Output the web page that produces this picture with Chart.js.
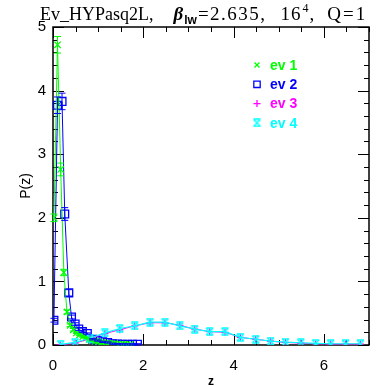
<!DOCTYPE html>
<html>
<head>
<meta charset="utf-8">
<script src="https://cdn.jsdelivr.net/npm/chart.js@4"></script>
<style>
  html, body { margin: 0; padding: 0; background: #fff; }
  #wrap { width: 382px; height: 386px; }
</style>
</head>
<body>
<div id="wrap"><canvas id="chart" width="382" height="386"></canvas></div>
<script>
// dados
const ev1X = [0.02, 0.10, 0.17, 0.24, 0.31, 0.38, 0.45, 0.52, 0.59, 0.66, 0.73, 0.80, 0.87, 0.94, 1.01, 1.08, 1.15, 1.22, 1.29, 1.36, 1.43, 1.50, 1.57, 1.64, 1.71];
const ev1Y = [2.00, 4.72, 2.76, 1.14, 0.52, 0.31, 0.24, 0.19, 0.16, 0.13, 0.11, 0.09, 0.07, 0.06, 0.05, 0.04, 0.03, 0.025, 0.02, 0.02, 0.015, 0.01, 0.01, 0.01, 0.01];
const ev1Err = [0.06, 0.13, 0.10, 0.05, 0.03, 0.02, 0.02, 0.01, 0.01, 0.01, 0.01, 0.01, 0.01, 0.01, 0.01, 0.01, 0.01, 0.01, 0.01, 0.01, 0.01, 0.01, 0.01, 0.01, 0.01];

const ev2X = [0.02, 0.10, 0.20, 0.26, 0.35, 0.41, 0.49, 0.57, 0.65, 0.76, 0.88, 0.99, 1.10, 1.21, 1.32, 1.43, 1.54, 1.65, 1.76, 1.87];
const ev2Y = [0.39, 3.77, 3.83, 2.06, 0.82, 0.44, 0.33, 0.25, 0.21, 0.18, 0.09, 0.07, 0.05, 0.04, 0.02, 0.015, 0.01, 0.01, 0.01, 0.01];
const ev2Err = [0.03, 0.13, 0.13, 0.10, 0.05, 0.03, 0.02, 0.02, 0.01, 0.01, 0.01, 0.01, 0.01, 0.01, 0.01, 0.01, 0.01, 0.01, 0.01, 0.01];

const ev3X = [0.16, 0.49, 0.82, 1.15, 1.48, 1.81, 2.15, 2.48, 2.81, 3.14, 3.47, 3.81, 4.15, 4.49, 4.82, 5.15, 5.49, 5.82, 6.15, 6.48, 6.81];
const ev3Y = [0.00, 0.03, 0.10, 0.18, 0.24, 0.30, 0.35, 0.35, 0.31, 0.25, 0.21, 0.20, 0.12, 0.09, 0.06, 0.04, 0.03, 0.02, 0.015, 0.015, 0.015];

const ev4X = [0.17, 0.49, 0.82, 1.15, 1.48, 1.81, 2.15, 2.48, 2.81, 3.14, 3.47, 3.81, 4.15, 4.49, 4.82, 5.15, 5.49, 5.82, 6.15, 6.48, 6.81];
const ev4Y = [0.01, 0.04, 0.11, 0.19, 0.26, 0.30, 0.36, 0.36, 0.30, 0.25, 0.21, 0.21, 0.12, 0.09, 0.06, 0.045, 0.035, 0.025, 0.02, 0.02, 0.02];

const xTicks = [0, 2, 4, 6];
const yTicks = [0, 1, 2, 3, 4, 5];
const legendLabels = ['ev 1', 'ev 2', 'ev 3', 'ev 4'];

// marcador ciano (ampulheta)
function marcadorAmpulheta(cor) {
    const c = document.createElement('canvas');
    c.width = 9; c.height = 9;
    const g = c.getContext('2d');
    g.strokeStyle = cor; g.lineWidth = 1.4;
    g.beginPath();
    g.moveTo(1, 1); g.lineTo(8, 8);
    g.moveTo(8, 1); g.lineTo(1, 8);
    g.moveTo(1, 1); g.lineTo(8, 1);
    g.moveTo(1, 8); g.lineTo(8, 8);
    g.stroke();
    return c;
}
const ampulheta = marcadorAmpulheta('#00ffff');

function pontos(xs, ys) {
    return xs.map((x, i) => ({ x: x, y: ys[i] }));
}

// título com beta, subscrito e expoente
function desenharTitulo(ctx) {
    ctx.save();
    ctx.fillStyle = '#000';
    ctx.textAlign = 'left';
    ctx.textBaseline = 'alphabetic';
    const base = 20;
    const serif = '18px "Liberation Serif", "DejaVu Serif", serif';
    const serifLargo = '19px "Liberation Serif", "DejaVu Serif", serif';
    const parte = (txt, font, x, dy, esp) => {
        ctx.font = font;
        ctx.letterSpacing = esp || '0px';
        ctx.fillText(txt, x, base + (dy || 0));
        return x + ctx.measureText(txt).width;
    };
    const fimEv = parte('Ev_HYPasq2L,', serif, 40);
    const fimBeta = parte('\u03b2', 'bold italic 19px "Liberation Serif", serif', fimEv + 20);
    const fimLw = parte('lw', 'bold 12px "Liberation Sans", sans-serif', fimBeta + 1, 4);
    const fimNum = parte('=2.635,', serifLargo, fimLw + 1, 0, '1.5px');
    const fim16 = parte('16', serifLargo, fimNum + 14, 0, '1px');
    const fimExp = parte('4', '12px "Liberation Serif", serif', fim16 + 1, -8);
    const fimVirg = parte(',', serifLargo, fimExp + 1);
    parte('Q=1', serifLargo, fimVirg + 13, 0, '2px');
    ctx.restore();
}

// moldura, ticks internos, barras de erro, legenda e título
const extras = {
    id: 'extras',
    beforeDatasetsDraw(chart) {
        const ctx = chart.ctx;
        const { left, right, top, bottom } = chart.chartArea;
        const xs = chart.scales.x, ys = chart.scales.y;
        ctx.save();
        ctx.strokeStyle = '#000';
        ctx.lineWidth = 1;
        ctx.beginPath();
        for (let v = 0; v <= 7.001; v += 0.5) {
            const px = Math.round(xs.getPixelForValue(v)) + 0.5;
            const len = (Math.abs(v % 2) < 1e-6) ? 11 : 5;
            ctx.moveTo(px, bottom); ctx.lineTo(px, bottom - len);
            ctx.moveTo(px, top); ctx.lineTo(px, top + len);
        }
        for (let v = 0; v <= 5.001; v += 0.2) {
            const py = Math.round(ys.getPixelForValue(v)) + 0.5;
            const len = (Math.abs(v - Math.round(v)) < 1e-6) ? 11 : 5;
            ctx.moveTo(left, py); ctx.lineTo(left + len, py);
            ctx.moveTo(right, py); ctx.lineTo(right - len, py);
        }
        ctx.stroke();
        ctx.lineWidth = 1.5;
        ctx.strokeRect(left, top, right - left, bottom - top);
        ctx.restore();
    },
    afterDatasetsDraw(chart) {
        const ctx = chart.ctx;
        const xs = chart.scales.x, ys = chart.scales.y;
        ctx.save();
        chart.data.datasets.forEach(ds => {
            if (!ds.erros) return;
            ctx.strokeStyle = ds.borderColor;
            ctx.lineWidth = 1;
            ctx.beginPath();
            ds.data.forEach((p, i) => {
                const e = ds.erros[i];
                const px = xs.getPixelForValue(p.x);
                const y1 = ys.getPixelForValue(p.y + e), y2 = ys.getPixelForValue(p.y - e);
                ctx.moveTo(px, y1); ctx.lineTo(px, y2);
                ctx.moveTo(px - 3.5, y1); ctx.lineTo(px + 3.5, y1);
                ctx.moveTo(px - 3.5, y2); ctx.lineTo(px + 3.5, y2);
            });
            ctx.stroke();
        });

        // legenda
        ctx.textAlign = 'left';
        ctx.textBaseline = 'middle';
        chart.data.datasets.forEach((ds, i) => {
            const y = 65 + i * 19.3;
            ctx.strokeStyle = ds.borderColor;
            ctx.fillStyle = 'rgba(0,0,0,0)';
            ctx.lineWidth = 1.3;
            Chart.helpers.drawPoint(ctx, {
                pointStyle: ds.pointStyle, radius: i === 1 ? 4.5 : 3.5, rotation: 0,
                borderWidth: 1.3
            }, 257, y);
            ctx.font = 'bold 14px "Liberation Sans", Arial, sans-serif';
            ctx.fillStyle = ds.borderColor;
            ctx.fillText(legendLabels[i], 270, y + 1);
        });
        ctx.restore();
        desenharTitulo(ctx);
    }
};

new Chart(document.getElementById('chart'), {
    type: 'line',
    data: {
        datasets: [
            {
                label: 'ev 1', data: pontos(ev1X, ev1Y), erros: ev1Err,
                borderColor: '#00ff00', backgroundColor: 'transparent',
                pointStyle: 'crossRot', pointRadius: 4.5, pointBorderWidth: 1.3,
                borderWidth: 1, order: 3
            },
            {
                label: 'ev 2', data: pontos(ev2X, ev2Y), erros: ev2Err,
                borderColor: '#0000ff', backgroundColor: 'transparent',
                pointStyle: 'rect', pointRadius: 5.5, pointBorderWidth: 1.3,
                borderWidth: 1, order: 4
            },
            {
                label: 'ev 3', data: pontos(ev3X, ev3Y),
                borderColor: '#ff00ff', backgroundColor: 'transparent',
                pointStyle: 'cross', pointRadius: 3.5, pointBorderWidth: 1.3,
                borderWidth: 1, order: 2
            },
            {
                label: 'ev 4', data: pontos(ev4X, ev4Y),
                borderColor: '#00ffff', backgroundColor: 'transparent',
                pointStyle: ampulheta, pointRadius: 4.5, pointBorderWidth: 1.3,
                borderWidth: 1.2, order: 1
            }
        ]
    },
    options: {
        responsive: false,
        animation: false,
        layout: { padding: { left: 0, right: 13, top: 27, bottom: 0 } },
        plugins: { legend: { display: false }, tooltip: { enabled: false } },
        elements: { line: { tension: 0 } },
        scales: {
            x: {
                type: 'linear', min: 0, max: 7,
                grid: { display: false, drawTicks: false },
                border: { display: false },
                afterBuildTicks: s => { s.ticks = xTicks.map(v => ({ value: v })); },
                afterFit: s => { s.height = 41; },
                ticks: {
                    padding: 12, color: '#000', maxRotation: 0,
                    font: { family: '"Liberation Sans", Arial, sans-serif', size: 15 }
                },
                title: {
                    display: true, text: 'z', color: '#000', padding: { top: 0, bottom: -3 },
                    font: { family: '"Liberation Sans", Arial, sans-serif', size: 12, weight: 'bold' }
                }
            },
            y: {
                type: 'linear', min: 0, max: 5,
                grid: { display: false, drawTicks: false },
                border: { display: false },
                afterBuildTicks: s => { s.ticks = yTicks.map(v => ({ value: v })); },
                afterFit: s => { s.width = 53; },
                ticks: {
                    padding: 7, color: '#000',
                    font: { family: '"Liberation Sans", Arial, sans-serif', size: 15 }
                },
                title: {
                    display: true, text: 'P(z)', color: '#000', padding: { top: 18, bottom: 0 },
                    font: { family: '"Liberation Sans", Arial, sans-serif', size: 14 }
                }
            }
        }
    },
    plugins: [extras]
});
</script>
</body>
</html>
